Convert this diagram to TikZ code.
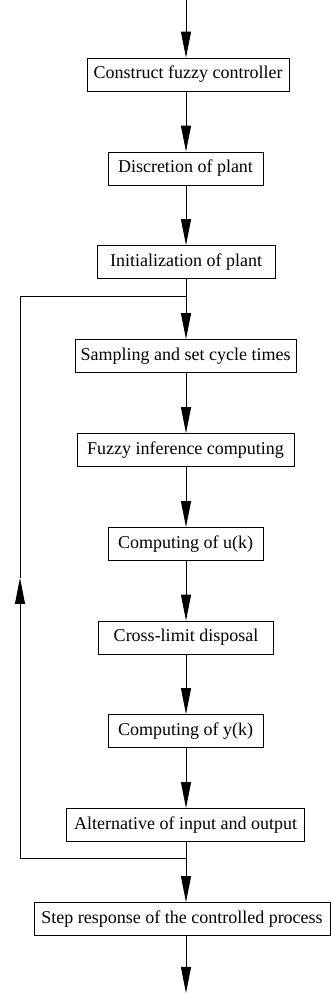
\documentclass[tikz,border=0pt]{standalone}
\usepackage{fontspec}
\setmainfont{Liberation Serif}
\usetikzlibrary{arrows.meta,positioning}

\begin{document}
\begin{tikzpicture}[
  x=1pt, y=1pt, font=\fontsize{18}{20}\selectfont,
  line width=0.9pt, >={Triangle[length=26pt,width=10pt]},
  proc/.style={draw, line width=0.8pt, minimum height=33pt, inner xsep=4pt, inner ysep=0pt},
]
\useasboundingbox (0,0) rectangle (331,993);

% Main chain of steps
\node[proc, minimum width=202pt] (b1) at (188,918.5) {Construct fuzzy controller};
\node[proc, minimum width=155pt] (b2) at (185.5,824.5) {Discretion of plant};
\node[proc, minimum width=178pt] (b3) at (186,731) {Initialization of plant};
\node[proc, minimum width=221pt] (b4) at (185.5,637) {Sampling and set cycle times};
\node[proc, minimum width=217pt] (b5) at (185.5,543) {Fuzzy inference computing};
\node[proc, minimum width=155pt] (b6) at (185.5,449) {Computing of u(k)};
\node[proc, minimum width=175pt] (b7) at (186,355.5) {Cross-limit disposal};
\node[proc, minimum width=155pt] (b8) at (185.5,262) {Computing of y(k)};
\node[proc, minimum width=238pt] (b9) at (185.5,168) {Alternative of input and output};
\node[proc, minimum width=296pt] (b10) at (182,74) {Step response of the controlled process};

% In and out
\coordinate (in) at (186,993);
\coordinate (out) at (186,0);
\draw[->] (in) -- (in |- b1.north);
\foreach \a/\b in {b1/b2, b2/b3, b3/b4, b4/b5, b5/b6, b6/b7, b7/b8, b8/b9, b9/b10}
  \draw[->] (in |- \a.south) -- (in |- \b.north);
\draw[->] (in |- b10.south) -- (out);

% Feedback loop
\coordinate (jtop) at (186,697);
\coordinate (jbot) at (186,135);
\coordinate (ltip) at (20,415);
\draw[->] (jbot) -| (ltip);
\draw (ltip) |- (jtop);
\end{tikzpicture}
\end{document}
